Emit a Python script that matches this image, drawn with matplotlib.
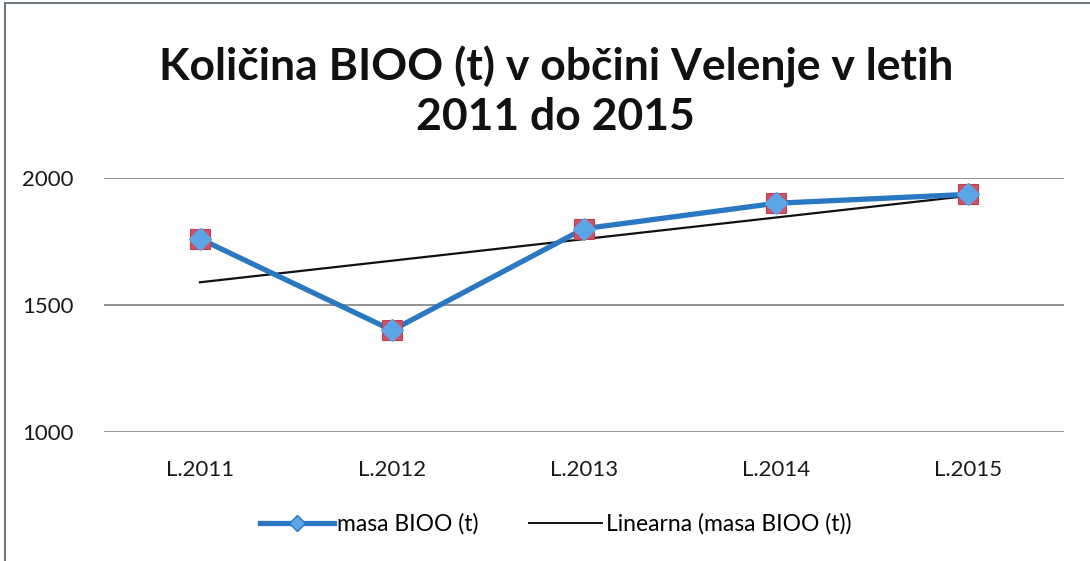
import matplotlib.pyplot as plt
from matplotlib.lines import Line2D
from matplotlib.patches import Rectangle
import numpy as np

# podatki
leta = ["L.2011", "L.2012", "L.2013", "L.2014", "L.2015"]
masa_bioo = [1760, 1400, 1800, 1900, 1935]
y_ticks = [1000, 1500, 2000]

plt.rcParams['font.family'] = ['Lato', 'DejaVu Sans']

fig = plt.figure(figsize=(10.9, 5.61), dpi=100)
ax = fig.add_axes([0.0954, 0.230, 0.881, 0.453])

x = np.arange(len(leta))

# linearni trend (najmanjši kvadrati)
k, n = np.polyfit(x, masa_bioo, 1)
trend = k * x + n

blue = '#2a78c2'
ax.plot(x, trend, color='#111111', lw=1.6, zorder=3)
ax.plot(x, masa_bioo, color=blue, lw=3.8, zorder=4, solid_capstyle='round')
ax.plot(x, masa_bioo, ls='none', marker='s', ms=14, mfc='#d0506a',
        mec='#c04050', mew=0.8, zorder=5)
ax.plot(x, masa_bioo, ls='none', marker='D', ms=11, mfc='#5aa6e6',
        mec='#5aa6e6', zorder=6)

ax.set_xlim(-0.5, len(leta) - 0.5)
ax.set_ylim(1000, 2000)
ax.set_yticks(y_ticks)
ax.set_xticks(x)
ax.set_xticklabels(leta)
ax.yaxis.grid(True, color='#8a8a8a', lw=1.3)
ax.set_axisbelow(True)
for s in ax.spines.values():
    s.set_visible(False)
ax.tick_params(axis='both', length=0, labelsize=16, colors='#1a1a1a')
ax.tick_params(axis='x', pad=20)
ax.tick_params(axis='y', pad=22)

fig.text(0.51, 0.837, "Količina BIOO (t) v občini Velenje v letih\n2011 do 2015",
         ha='center', va='center', fontsize=32, fontweight='bold',
         color='#111111', linespacing=1.3)

handles = [
    Line2D([], [], color=blue, lw=3.8, marker='D', ms=8, mfc='#5aa6e6', mec=blue),
    Line2D([], [], color='#111111', lw=1.4),
]
fig.legend(handles, ["masa BIOO (t)", "Linearna (masa BIOO (t))"],
           loc='center', bbox_to_anchor=(0.51, 0.066), ncol=2, frameon=False,
           fontsize=16.5, handlelength=3.2, handletextpad=0.15, columnspacing=2.2)

# okvir grafikona
fig.patches.append(Rectangle((0.005, -0.02), 1.1, 1.015, transform=fig.transFigure,
                             fill=False, edgecolor='#6f7a80', lw=1.5))

fig.savefig("out.png", dpi=100, facecolor='white')
